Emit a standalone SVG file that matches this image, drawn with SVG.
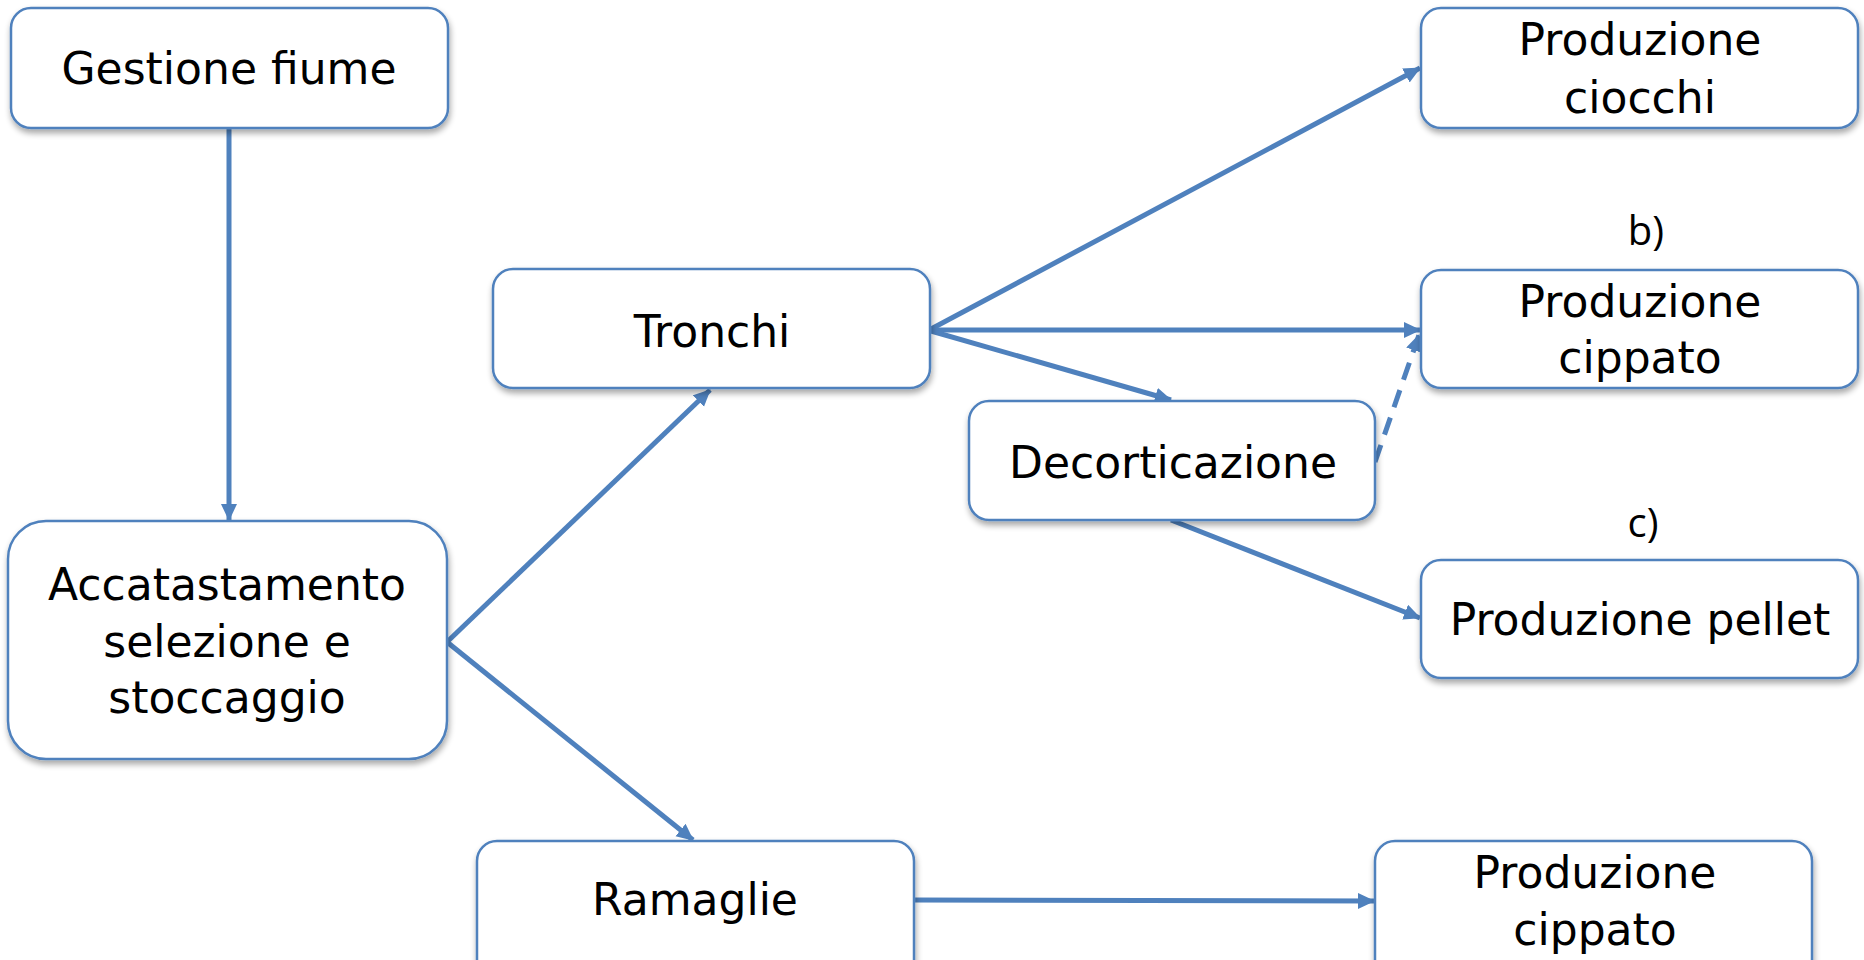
<svg xmlns="http://www.w3.org/2000/svg" width="1864" height="960" viewBox="0 0 1864 960">
<defs>
<filter id="sh" x="-10%" y="-10%" width="120%" height="130%">
<feGaussianBlur in="SourceAlpha" stdDeviation="3"/>
<feOffset dx="1" dy="4" result="b"/>
<feComponentTransfer><feFuncA type="linear" slope="0.35"/></feComponentTransfer>
<feMerge><feMergeNode/><feMergeNode in="SourceGraphic"/></feMerge>
</filter>
<marker id="ah" markerUnits="userSpaceOnUse" markerWidth="20" markerHeight="18" refX="16" refY="8" orient="auto">
<path d="M0,0 L17,8 L0,16 Z" fill="#4F81BD"/>
</marker>
</defs>
<style>
.box{fill:#fff;stroke:#4F81BD;stroke-width:2.5;filter:url(#sh)}
.t{font-family:"DejaVu Sans",sans-serif;font-size:44px;fill:#000;text-anchor:middle}
.lab{font-family:"Open Sans","Liberation Sans",sans-serif;font-size:40px;fill:#000;text-anchor:middle}
.c{stroke:#4F81BD;stroke-width:5;fill:none;marker-end:url(#ah)}
.d{stroke-dasharray:18,11}
</style>
<rect width="1864" height="960" fill="#fff"/>
<g id="connectors">
<line class="c" x1="229" y1="129" x2="229" y2="520"/>
<line class="c" x1="447" y1="642" x2="710" y2="390"/>
<line class="c" x1="447" y1="642" x2="693" y2="840"/>
<line class="c" x1="931" y1="329" x2="1420" y2="68"/>
<line class="c" x1="931" y1="330" x2="1420" y2="330"/>
<line class="c" x1="931" y1="331" x2="1171" y2="400"/>
<line class="c d" x1="1375" y1="462" x2="1419" y2="335"/>
<line class="c" x1="1171" y1="520" x2="1420" y2="618"/>
<line class="c" x1="914" y1="900" x2="1374" y2="901"/>
</g>
<g id="gestione">
<rect class="box" x="11" y="8" width="437" height="120" rx="20"/>
<text class="t" x="229" y="84">Gestione fiume</text>
</g>
<g id="accatastamento">
<rect class="box" x="8" y="521" width="439" height="238" rx="38"/>
<text class="t" x="227" y="600">Accatastamento</text>
<text class="t" x="227" y="657">selezione e</text>
<text class="t" x="227" y="713">stoccaggio</text>
</g>
<g id="tronchi">
<rect class="box" x="493" y="269" width="437" height="119" rx="20"/>
<text class="t" x="712" y="347">Tronchi</text>
</g>
<g id="decorticazione">
<rect class="box" x="969" y="401" width="406" height="119" rx="20"/>
<text class="t" x="1173" y="478">Decorticazione</text>
</g>
<g id="ciocchi">
<rect class="box" x="1421" y="8" width="437" height="120" rx="20"/>
<text class="t" x="1640" y="55">Produzione</text>
<text class="t" x="1640" y="113">ciocchi</text>
</g>
<g id="label-b">
<text class="lab" x="1646" y="245">b)</text>
</g>
<g id="cippato1">
<rect class="box" x="1421" y="270" width="437" height="118" rx="20"/>
<text class="t" x="1640" y="317">Produzione</text>
<text class="t" x="1640" y="373">cippato</text>
</g>
<g id="label-c">
<text class="lab" x="1643" y="537">c)</text>
</g>
<g id="pellet">
<rect class="box" x="1421" y="560" width="437" height="118" rx="20"/>
<text class="t" x="1640" y="635">Produzione pellet</text>
</g>
<g id="ramaglie">
<rect class="box" x="477" y="841" width="437" height="140" rx="20"/>
<text class="t" x="695" y="915">Ramaglie</text>
</g>
<g id="cippato2">
<rect class="box" x="1375" y="841" width="437" height="140" rx="20"/>
<text class="t" x="1595" y="888">Produzione</text>
<text class="t" x="1595" y="945">cippato</text>
</g>
</svg>
